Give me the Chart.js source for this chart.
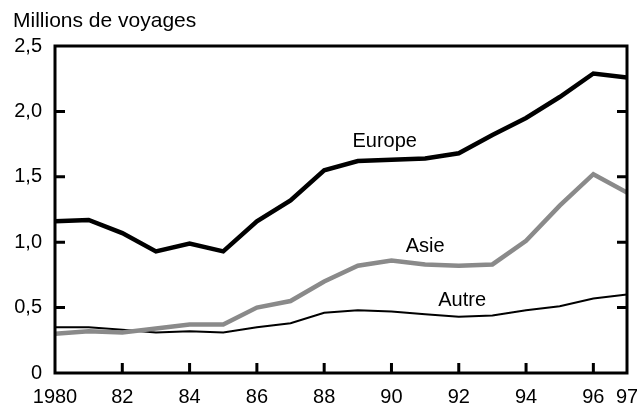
<!DOCTYPE html>
<html><head><meta charset="utf-8">
<script src="https://cdn.jsdelivr.net/npm/chart.js@4"></script>
<style>html,body{margin:0;padding:0;background:#fff}#wrap{width:637px;height:406px;position:relative}</style>
</head><body><div id="wrap"><canvas id="c" width="637" height="406"></canvas></div>
<script>
const years = [1980,1981,1982,1983,1984,1985,1986,1987,1988,1989,1990,1991,1992,1993,1994,1995,1996,1997];
const europe = [1.16,1.17,1.07,0.93,0.99,0.93,1.16,1.32,1.55,1.62,1.63,1.64,1.68,1.82,1.95,2.11,2.29,2.26];
const asie   = [0.30,0.32,0.31,0.34,0.37,0.37,0.50,0.55,0.70,0.82,0.86,0.83,0.82,0.83,1.01,1.28,1.52,1.38];
const autre  = [0.35,0.35,0.33,0.31,0.32,0.31,0.35,0.38,0.46,0.48,0.47,0.45,0.43,0.44,0.48,0.51,0.57,0.60];
const xTicks = [1980,1982,1984,1986,1988,1990,1992,1994,1996,1997];
const yTicks = [0,0.5,1,1.5,2,2.5];
const seriesLabels = [
  {text:'Europe', x:1989.8, y:1.77},
  {text:'Asie', x:1991.0, y:0.97},
  {text:'Autre', x:1992.1, y:0.555}
];
const FAMILY = '"Liberation Sans", Arial, sans-serif';
const FONT = '20px ' + FAMILY;

const pts = arr => arr.map((v,i)=>({x:years[i], y:v}));

const framePlugin = {
  id:'frame',
  afterDatasetsDraw(chart){
    const {ctx, chartArea:a, scales:{x,y}} = chart;
    ctx.save();
    ctx.strokeStyle='#000';
    ctx.lineWidth=3;
    ctx.strokeRect(a.left, a.top, a.right-a.left, a.bottom-a.top);
    ctx.beginPath();
    xTicks.forEach(t=>{ if(t===1980||t===1997) return; const px=x.getPixelForValue(t); ctx.moveTo(px,a.bottom); ctx.lineTo(px,a.bottom-10);});
    yTicks.forEach(t=>{ if(t===0||t===2.5) return; const py=y.getPixelForValue(t); ctx.moveTo(a.left,py); ctx.lineTo(a.left+10,py); ctx.moveTo(a.right,py); ctx.lineTo(a.right-10,py);});
    ctx.stroke();
    ctx.fillStyle='#000';
    ctx.font=FONT;
    ctx.textAlign='center'; ctx.textBaseline='middle';
    seriesLabels.forEach(l=>ctx.fillText(l.text, x.getPixelForValue(l.x), y.getPixelForValue(l.y)));
    ctx.textAlign='left';
    ctx.font='21px ' + FAMILY;
    ctx.fillText('Millions de voyages', 13, 21);
    ctx.restore();
  }
};

new Chart(document.getElementById('c'), {
  type:'line',
  data:{datasets:[
    {data:pts(europe), borderColor:'#000', borderWidth:4.5},
    {data:pts(asie), borderColor:'#8a8a8a', borderWidth:4.5},
    {data:pts(autre), borderColor:'#000', borderWidth:2}
  ]},
  options:{
    responsive:false, animation:false,
    elements:{point:{radius:0}, line:{tension:0, borderJoinStyle:'miter'}},
    layout:{padding:{top:46,right:10,left:0,bottom:0}},
    plugins:{legend:{display:false}, tooltip:{enabled:false}},
    scales:{
      x:{type:'linear', min:1980, max:1997,
        afterBuildTicks(s){ s.ticks = xTicks.map(v=>({value:v})); },
        afterFit(s){ s.height = 33; s.paddingLeft = 0; s.paddingRight = 0; },
        grid:{display:false, drawTicks:false}, border:{display:false},
        ticks:{padding:12, color:'#000', font:{family:FAMILY, size:20},
          maxRotation:0, autoSkip:false,
          callback:v=> v===1980 ? '1980' : String(v).slice(2)}
      },
      y:{min:0, max:2.5,
        afterBuildTicks(s){ s.ticks = yTicks.map(v=>({value:v})); },
        afterFit(s){ s.width = 55; s.paddingTop = 0; s.paddingBottom = 0; },
        grid:{display:false, drawTicks:false}, border:{display:false},
        ticks:{padding:13, color:'#000', font:{family:FAMILY, size:20},
          callback:v=> v===0 ? '0' : v.toFixed(1).replace('.',',')}
      }
    }
  },
  plugins:[framePlugin]
});
</script></body></html>
